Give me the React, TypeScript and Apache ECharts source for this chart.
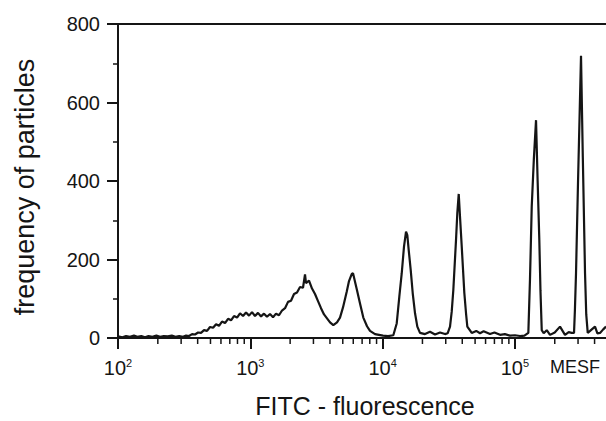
import React, { useEffect, useRef } from "react";
import * as echarts from "echarts";

// [FITC fluorescence (MESF), frequency of particles]
const baseline: [number, number][] = [
  [100, 4], [108, 2], [115, 5], [123, 3], [132, 6], [140, 3], [150, 5], [160, 2],
  [170, 5], [182, 3], [195, 6], [208, 3], [222, 5], [238, 4], [255, 6], [272, 3],
  [290, 5], [310, 3],
];

const broadHump: [number, number][] = [
  [327, 6], [344, 5], [363, 10], [382, 9], [403, 14], [424, 13], [447, 20], [471, 18],
  [496, 28], [523, 26], [551, 35], [580, 31], [611, 42], [644, 38], [679, 49], [715, 45],
  [753, 56], [794, 52], [836, 63], [881, 56], [928, 65], [978, 57], [1030, 66], [1085, 56],
  [1143, 64], [1205, 55], [1269, 62], [1337, 54], [1409, 61], [1485, 53], [1564, 62],
  [1648, 58], [1736, 70], [1830, 76], [1928, 92], [2031, 95], [2140, 112], [2254, 116],
  [2376, 130], [2502, 128], [2591, 162], [2636, 140], [2778, 146], [2927, 126], [3083, 112],
  [3249, 94], [3423, 76], [3607, 60], [4003, 40], [4241, 33], [4521, 40], [4764, 52],
];

const peak2: [number, number][] = [
  [5019, 78], [5354, 118], [5572, 145], [5840, 163], [5975, 165], [6372, 125], [6749, 88],
  [7147, 52], [7623, 30], [8031, 18], [8760, 10], [10070, 6], [10990, 5],
];

const peak3: [number, number][] = [
  [12050, 7], [12780, 37], [13370, 105], [13950, 165], [14510, 233], [15030, 271],
  [15370, 262], [15750, 224], [16310, 173], [16890, 114], [17580, 63], [18300, 29],
  [19170, 13], [20920, 10], [22820, 16], [24900, 9], [27160, 14], [29630, 10], [31000, 12],
];

const peak4: [number, number][] = [
  [32320, 29], [33290, 67], [34230, 122], [35880, 250], [36690, 318], [37610, 367],
  [38460, 309], [39630, 233], [41460, 115], [42700, 63], [43680, 29], [47160, 13],
  [51000, 18], [54480, 12], [58000, 17], [64830, 10], [70000, 14], [77160, 8], [84000, 10],
  [91820, 6], [100000, 7], [109300, 5], [118000, 6],
];

const peak5: [number, number][] = [
  [126300, 13], [130000, 150], [134000, 335], [139000, 455], [144400, 555], [148500, 400],
  [152900, 250], [156000, 120], [159500, 20], [165000, 12], [174000, 20], [184200, 8],
  [200000, 14], [219200, 29], [239100, 8], [255000, 15], [268800, 13],
];

const peak6: [number, number][] = [
  [279700, 13], [284000, 70], [289600, 165], [300000, 400], [315900, 719], [326000, 460],
  [338800, 165], [346000, 60], [355100, 13], [370000, 18], [403100, 29], [420000, 12],
  [439800, 13], [465000, 22], [488000, 29],
];

const minorXTicks = [
  200, 300, 400, 500, 600, 700, 800, 900,
  2000, 3000, 4000, 5000, 6000, 7000, 8000, 9000,
  20000, 30000, 40000, 50000, 60000, 70000, 80000, 90000,
  200000, 300000, 400000,
];

const xMin = 100;
const xMax = 488000; // visible end of the (cropped) axis

const yTitle = "frequency of particles";
const xTitle = "FITC - fluorescence";
const unitLabel = "MESF";

const FONT = "'Liberation Sans', Arial, Helvetica, sans-serif";
const INK = "#151515";

export default function App() {
  const ref = useRef<HTMLDivElement>(null);
  useEffect(() => {
    const chart = echarts.init(ref.current!, null, { renderer: "svg" });
    const histogram = [
      ...baseline, ...broadHump, ...peak2, ...peak3, ...peak4, ...peak5, ...peak6,
    ];
    chart.setOption({
      animation: false,
      backgroundColor: "#fff",
      grid: {
        left: 118,
        top: 24,
        right: 0,
        height: 314,
      },
      xAxis: [
        {
          type: "log",
          logBase: 10,
          min: xMin,
          max: xMax,
          axisLine: { show: true, lineStyle: { color: INK, width: 2 } },
          axisTick: { show: true, length: 11, inside: false, lineStyle: { color: INK, width: 2 } },
          splitLine: { show: false },
          axisLabel: {
            margin: 19,
            showMaxLabel: false,
            formatter: (v: number) => `{b|10}{s|${Math.round(Math.log10(v))}}`,
            rich: {
              b: { fontSize: 20, lineHeight: 22, fontFamily: FONT, color: INK },
              s: { fontSize: 11, lineHeight: 12, verticalAlign: "top", fontFamily: FONT, color: INK },
            },
          },
        },
        {
          type: "log",
          logBase: 10,
          position: "top",
          min: xMin,
          max: xMax,
          axisLine: { show: true, lineStyle: { color: INK, width: 2 } },
          axisTick: { show: false },
          axisLabel: { show: false },
          splitLine: { show: false },
        },
      ],
      yAxis: {
        type: "value",
        min: 0,
        max: 800,
        interval: 200,
        axisLine: { show: true, lineStyle: { color: INK, width: 2 } },
        axisTick: { show: true, length: 11, inside: false, lineStyle: { color: INK, width: 2 } },
        minorTick: { show: true, splitNumber: 2, length: 5, lineStyle: { color: INK, width: 1.5 } },
        splitLine: { show: false },
        minorSplitLine: { show: false },
        axisLabel: { margin: 18, fontSize: 20, fontFamily: FONT, color: INK },
      },
      series: [
        {
          type: "line",
          xAxisIndex: 0,
          data: histogram,
          showSymbol: false,
          symbol: "none",
          lineStyle: { color: INK, width: 2.2 },
          silent: true,
        },
        {
          type: "custom",
          xAxisIndex: 0,
          silent: true,
          data: minorXTicks.map((v) => [v, 0]),
          encode: { x: 0, y: 1 },
          renderItem: (_params: any, api: any) => {
            const p = api.coord([api.value(0), 0]);
            return {
              type: "line",
              shape: { x1: p[0], y1: p[1], x2: p[0], y2: p[1] + 6 },
              style: { stroke: INK, lineWidth: 1.5 },
            };
          },
        },
      ],
      graphic: [
        {
          type: "text",
          x: 25,
          y: 187,
          rotation: Math.PI / 2,
          style: {
            text: yTitle,
            fontSize: 27,
            fontFamily: FONT,
            fill: INK,
            align: "center",
            verticalAlign: "middle",
          },
        },
        {
          type: "text",
          x: 365,
          y: 406,
          style: {
            text: xTitle,
            fontSize: 25,
            lineHeight: 24,
            fontFamily: FONT,
            fill: INK,
            align: "center",
            verticalAlign: "middle",
          },
        },
        {
          type: "text",
          x: 575,
          y: 367,
          style: {
            text: unitLabel,
            fontSize: 18,
            fontFamily: FONT,
            fill: INK,
            align: "center",
            verticalAlign: "middle",
          },
        },
      ],
    });
    return () => chart.dispose();
  }, []);
  return (
    <div
      ref={ref}
      style={{ position: "fixed", left: 0, top: 0, width: 606, height: 421, background: "#fff" }}
    />
  );
}
